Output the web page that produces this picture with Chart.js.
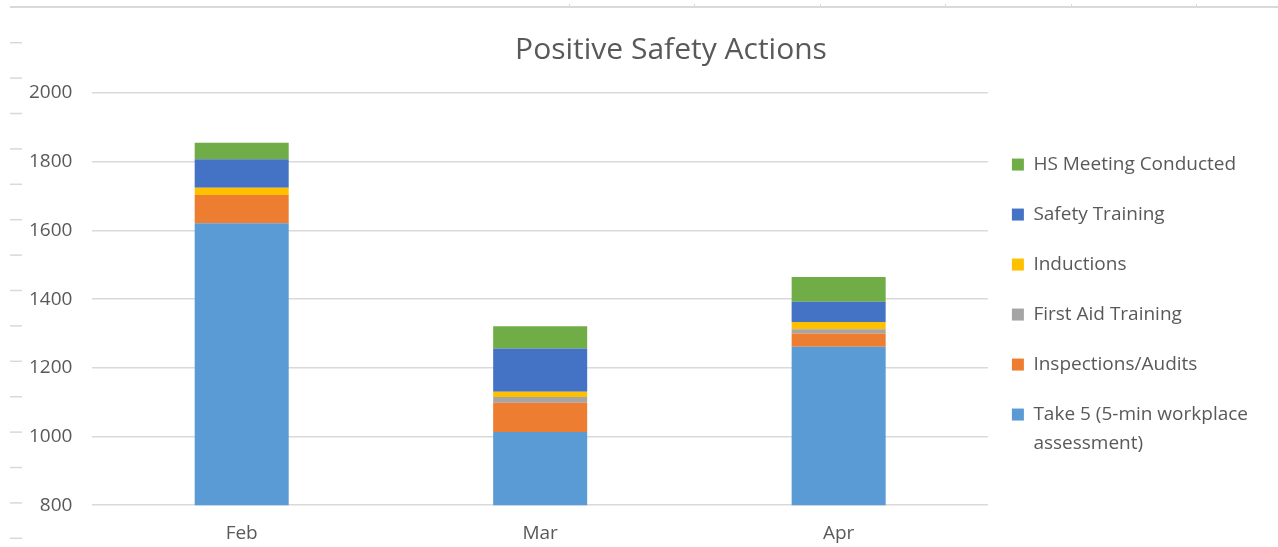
<!DOCTYPE html>
<html>
<head>
<meta charset="utf-8">
<title>Positive Safety Actions</title>
<script src="https://cdn.jsdelivr.net/npm/chart.js@4.4.1/dist/chart.umd.min.js"></script>
<style>
    html, body { margin: 0; padding: 0; background: #ffffff; }
    #wrap { width: 1278px; height: 547px; position: relative; }
</style>
</head>
<body>
<div id="wrap"><canvas id="safetyChart"></canvas></div>
<script>
const months = ['Feb', 'Mar', 'Apr'];

// values
const take5 = [1621, 1013, 1261];
const inspections = [82, 85, 39];
const firstAid = [0, 17, 12];
const inductions = [21, 15, 21];
const safetyTraining = [83, 126, 59];
const hsMeetings = [48, 65, 72];

const yTicks = [800, 1000, 1200, 1400, 1600, 1800, 2000];

const textGrey = '#595959';
const gridGrey = '#d9d9d9';
const fontFamily = "'Open Sans', 'Noto Sans', sans-serif";

// Spreadsheet edges that show in the screenshot (top ruler + row marks on the left)
const sheetDecor = {
    id: 'sheetDecor',
    beforeDraw(chart) {
        const ctx = chart.ctx;
        ctx.save();
        ctx.strokeStyle = gridGrey;
        ctx.lineWidth = 2;
        ctx.beginPath();
        ctx.moveTo(10, 7);
        ctx.lineTo(chart.width, 7);
        ctx.stroke();
        ctx.lineWidth = 1;
        [569, 694, 820, 945, 1071, 1196].forEach(x => {
            ctx.beginPath();
            ctx.moveTo(x + 0.5, 4);
            ctx.lineTo(x + 0.5, 8);
            ctx.stroke();
        });
        ctx.lineWidth = 1.5;
        for (let y = 42.7; y < chart.height; y += 35.4) {
            ctx.beginPath();
            ctx.moveTo(10, y);
            ctx.lineTo(22, y);
            ctx.stroke();
        }
        ctx.restore();
    }
};

// Title sits a bit right of centre in the original
const offsetTitle = {
    id: 'offsetTitle',
    afterDraw(chart) {
        const ctx = chart.ctx;
        ctx.save();
        ctx.font = "30px " + fontFamily;
        ctx.fillStyle = textGrey;
        ctx.textAlign = 'center';
        ctx.textBaseline = 'middle';
        ctx.fillText('Positive Safety Actions', chart.width / 2 + 32, 50);
        ctx.restore();
    }
};

// move the legend block up and a bit closer to the plot, like in the original
const legendNudge = {
    id: 'legendNudge',
    afterLayout(chart) {
        chart.legend.top -= 18;
        chart.legend.bottom -= 18;
        chart.legend.left -= 7;
        chart.legend.right -= 7;
    }
};

function makeSet(label, data, color) {
    return {
        label: label,
        data: data,
        backgroundColor: color,
        borderWidth: 0,
        barPercentage: 0.315,
        categoryPercentage: 1
    };
}

document.addEventListener('DOMContentLoaded', () => {
    const ctx = document.getElementById('safetyChart').getContext('2d');
    Chart.defaults.font.family = fontFamily;
    Chart.defaults.color = textGrey;

    new Chart(ctx, {
        type: 'bar',
        data: {
            labels: months,
            datasets: [
                makeSet(['Take 5 (5-min workplace', 'assessment)'], take5, '#5b9bd5'),
                makeSet('Inspections/Audits', inspections, '#ed7d31'),
                makeSet('First Aid Training', firstAid, '#a5a5a5'),
                makeSet('Inductions', inductions, '#ffc000'),
                makeSet('Safety Training', safetyTraining, '#4472c4'),
                makeSet('HS Meeting Conducted', hsMeetings, '#70ad47')
            ]
        },
        options: {
            responsive: true,
            maintainAspectRatio: false,
            animation: false,
            layout: { padding: { top: 93, left: 9, right: 13, bottom: -15 } },
            plugins: {
                title: { display: false },
                tooltip: { enabled: false },
                legend: {
                    position: 'right',
                    reverse: true,
                    labels: {
                        boxWidth: 12,
                        boxHeight: 12,
                        padding: 31,
                        color: textGrey,
                        font: { size: 19, lineHeight: 1.55 }
                    }
                }
            },
            scales: {
                x: {
                    stacked: true,
                    grid: { display: false, drawTicks: false },
                    border: { display: false },
                    ticks: { padding: 17, color: textGrey, font: { size: 19 } }
                },
                y: {
                    stacked: true,
                    min: yTicks[0],
                    max: yTicks[yTicks.length - 1],
                    afterBuildTicks: axis => { axis.ticks = yTicks.map(v => ({ value: v })); },
                    grid: { color: gridGrey, lineWidth: 1.5, drawTicks: false },
                    border: { display: false },
                    ticks: {
                        padding: 20,
                        color: textGrey,
                        font: { size: 19 },
                        callback: v => String(v)
                    }
                }
            }
        },
        plugins: [sheetDecor, offsetTitle, legendNudge]
    });
});
</script>
</body>
</html>
